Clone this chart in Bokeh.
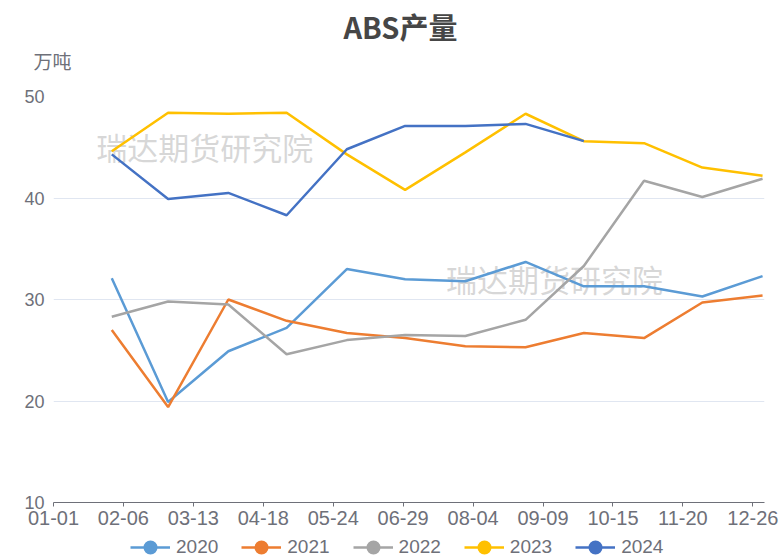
import pandas as pd
from bokeh.plotting import figure
from bokeh.layouts import column
from bokeh.models import (ColumnDataSource, FixedTicker, DatetimeTickFormatter, Range1d,
                          Legend, LegendItem, Label, Title)
from bokeh.embed import file_html
from bokeh.resources import INLINE

# ---------------- data ----------------
title_text = "ABS产量"
unit_text = "万吨"
watermark = "瑞达期货研究院"
base_year = "2020"
months = ["01-31", "02-29", "03-31", "04-30", "05-31", "06-30",
          "07-31", "08-31", "09-30", "10-31", "11-30", "12-31"]
series_names = ["2020", "2021", "2022", "2023", "2024"]
v2020 = [32.1, 19.9, 24.9, 27.2, 33.0, 32.0, 31.8, 33.7, 31.3, 31.3, 30.3, 32.3]
v2021 = [27.0, 19.4, 30.0, 27.9, 26.7, 26.2, 25.4, 25.3, 26.7, 26.2, 29.7, 30.4]
v2022 = [28.3, 29.8, 29.5, 24.6, 26.0, 26.5, 26.4, 28.0, 33.3, 41.7, 40.1, 41.9]
v2023 = [44.6, 48.4, 48.3, 48.4, 44.3, 40.8, 44.5, 48.3, 45.6, 45.4, 43.0, 42.2]
v2024 = [44.3, 39.9, 40.5, 38.3, 44.8, 47.1, 47.1, 47.3, 45.6]
colors = ["#5B9BD5", "#ED7D31", "#A5A5A5", "#FFC000", "#4472C4"]
x_tick_labels = ["01-01", "02-06", "03-13", "04-18", "05-24", "06-29",
                 "08-04", "09-09", "10-15", "11-20", "12-26"]
y_ticks = [10, 20, 30, 40, 50]

CJK = "Noto Sans CJK SC"
LAT = "Liberation Sans"
GREY = "#6E7079"

dates = pd.to_datetime([f"{base_year}-{m}" for m in months])
tick_ms = [pd.Timestamp(f"{base_year}-{t}").value / 1e6 for t in x_tick_labels]
values = [v2020, v2021, v2022, v2023, v2024]

p = figure(width=779, height=533, output_backend="svg", toolbar_location=None,
           x_axis_type="datetime",
           x_range=Range1d(pd.Timestamp(f"{base_year}-01-01"), pd.Timestamp("2021-01-01")),
           y_range=Range1d(10, 50),
           min_border_left=53, min_border_right=15, min_border_top=0, min_border_bottom=31)
p.outline_line_color = None
p.background_fill_color = "white"

# spacer between unit label and plot area
p.add_layout(Title(text=" ", text_font_size="1px", standoff=23), "above")
# unit label
p.add_layout(Title(text=unit_text, align="left", offset=-20,
                   standoff=-7, text_font=CJK, text_font_size="19px",
                   text_font_style="normal", text_color=GREY), "above")
# title (outermost)
p.title.text = title_text
p.title.align = "left"
p.title.offset = 290
p.title.standoff = 4
p.title.text_font = CJK
p.title.text_font_size = "29px"
p.title.text_font_style = "bold"
p.title.text_color = "#464646"

# axes
xa = p.xaxis[0]
xa.ticker = FixedTicker(ticks=tick_ms)
xa.formatter = DatetimeTickFormatter(days="%m-%d", months="%m-%d", years="%m-%d",
                                     hours="%m-%d", minutes="%m-%d", seconds="%m-%d",
                                     milliseconds="%m-%d", minsec="%m-%d", hourmin="%m-%d")
xa.axis_line_color = GREY
xa.major_tick_line_color = GREY
xa.major_tick_out = 4
xa.major_tick_in = 0
xa.minor_tick_line_color = None
xa.major_label_text_color = GREY
xa.major_label_text_font = LAT
xa.major_label_text_font_size = "20px"
xa.major_label_standoff = 4

ya = p.yaxis[0]
ya.ticker = FixedTicker(ticks=y_ticks)
ya.axis_line_color = None
ya.major_tick_line_color = None
ya.minor_tick_line_color = None
ya.major_tick_out = 0
ya.major_tick_in = 0
ya.major_label_text_color = GREY
ya.major_label_text_font = LAT
ya.major_label_text_font_size = "18px"
ya.major_label_standoff = 9

p.xgrid.grid_line_color = None
p.ygrid.grid_line_color = "#E0E6F1"
p.ygrid.grid_line_width = 1

# watermarks
for wx, wy in [(pd.Timestamp(f"{base_year}-01-23"), 45.1), (pd.Timestamp(f"{base_year}-07-21"), 32.1)]:
    p.add_layout(Label(x=wx, y=wy, text=watermark, text_font=CJK, text_font_size="31px",
                       text_color="#BDBDBD", text_alpha=0.6, text_align="left",
                       text_baseline="middle", level="underlay"))

# legend strip
p2 = figure(width=779, height=25, output_backend="svg", toolbar_location=None,
            x_axis_location=None, y_axis_location=None,
            min_border_left=0, min_border_right=0, min_border_top=0, min_border_bottom=0)
p2.outline_line_color = None
p2.xgrid.grid_line_color = None
p2.ygrid.grid_line_color = None

items = []
for name, vals, c in zip(series_names, values, colors):
    src = ColumnDataSource(dict(x=dates[:len(vals)], y=vals))
    p.line("x", "y", source=src, line_color=c, line_width=2.5)
    ln2 = p2.line("x", "y", source=src, line_color=c, line_width=2.5, visible=False)
    sc2 = p2.scatter("x", "y", source=src, size=8, fill_color=c, line_color=c,
                     line_width=6, visible=False)
    items.append(LegendItem(label=name, renderers=[ln2, sc2]))

legend = Legend(items=items, orientation="horizontal", location=(77, 0),
                glyph_width=40, glyph_height=20, label_text_font=LAT,
                label_text_font_size="19px", label_text_color=GREY,
                label_standoff=6, spacing=23, padding=0, margin=0,
                border_line_color=None, background_fill_alpha=0)
p2.add_layout(legend, "center")

layout = column(p, p2, spacing=0)
open("out.html", "w").write(file_html(layout, INLINE))
